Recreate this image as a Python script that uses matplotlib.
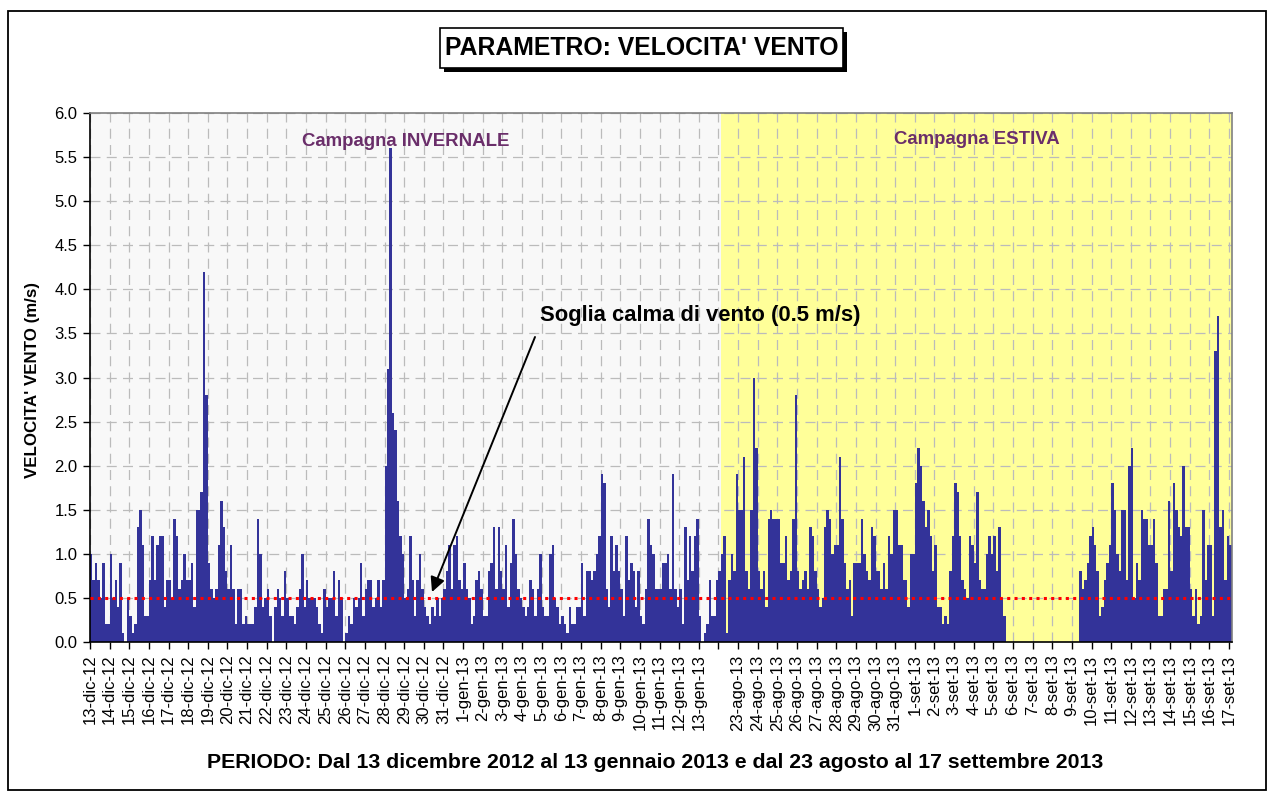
import numpy as np
import matplotlib
matplotlib.use('Agg')
import matplotlib.pyplot as plt
from matplotlib.patches import Rectangle
from matplotlib.ticker import FormatStrFormatter

# ---------------- data (3-hourly wind speed, m/s) ----------------
hours_per_sample = 3

winter_speed = [
    1.0, 0.7, 0.9, 0.7, 0.5, 0.9, 0.2, 0.2,   # 13-dic
    1.0, 0.5, 0.7, 0.4, 0.9, 0.1, 0.0, 0.5,   # 14-dic
    0.3, 0.1, 0.2, 1.3, 1.5, 1.1, 0.3, 0.3,   # 15-dic
    0.7, 1.2, 0.7, 1.1, 1.2, 1.2, 0.4, 0.7,   # 16-dic
    0.7, 0.5, 1.4, 1.2, 0.6, 0.7, 1.0, 0.7,   # 17-dic
    0.7, 0.9, 0.4, 1.5, 1.5, 1.7, 4.2, 2.8,   # 18-dic
    0.9, 0.6, 0.5, 0.6, 1.1, 1.6, 1.3, 0.8,   # 19-dic
    0.6, 1.1, 0.6, 0.2, 0.6, 0.6, 0.2, 0.3,   # 20-dic
    0.2, 0.2, 0.2, 0.4, 1.4, 1.0, 0.4, 0.5,   # 21-dic
    0.6, 0.3, 0.0, 0.4, 0.6, 0.5, 0.3, 0.8,   # 22-dic
    0.5, 0.3, 0.3, 0.2, 0.4, 0.6, 1.0, 0.4,   # 23-dic
    0.7, 0.5, 0.5, 0.5, 0.4, 0.2, 0.1, 0.6,   # 24-dic
    0.4, 0.5, 0.5, 0.8, 0.3, 0.7, 0.5, 0.0,   # 25-dic
    0.1, 0.3, 0.2, 0.5, 0.4, 0.5, 0.9, 0.3,   # 26-dic
    0.6, 0.7, 0.7, 0.4, 0.5, 0.7, 0.4, 0.7,   # 27-dic
    2.0, 3.1, 5.6, 2.6, 2.4, 1.6, 1.2, 1.0,   # 28-dic
    0.5, 0.6, 1.2, 0.7, 0.3, 0.7, 1.0, 0.6,   # 29-dic
    0.4, 0.3, 0.2, 0.4, 0.3, 0.5, 0.3, 0.5,   # 30-dic
    0.6, 0.8, 1.1, 0.6, 1.1, 1.2, 0.7, 0.6,   # 31-dic
    0.9, 0.6, 0.5, 0.2, 0.3, 0.7, 0.8, 0.6,   # 1-gen
    0.3, 0.3, 0.8, 0.9, 1.3, 0.6, 1.3, 0.8,   # 2-gen
    0.6, 1.1, 0.4, 0.9, 1.4, 1.0, 0.6, 0.5,   # 3-gen
    0.4, 0.3, 0.4, 0.7, 0.6, 0.3, 0.6, 1.0,   # 4-gen
    0.4, 0.3, 0.3, 1.0, 1.1, 0.5, 0.4, 0.2,   # 5-gen
    0.3, 0.2, 0.1, 0.4, 0.2, 0.2, 0.4, 0.4,   # 6-gen
    0.9, 0.3, 0.8, 0.8, 0.7, 0.8, 1.0, 1.2,   # 7-gen
    1.9, 1.8, 0.6, 0.4, 1.2, 0.8, 1.1, 0.8,   # 8-gen
    0.6, 0.3, 1.2, 0.7, 0.9, 0.8, 0.4, 0.8,   # 9-gen
    0.3, 0.2, 0.6, 1.4, 1.1, 1.0, 0.6, 0.6,   # 10-gen
    0.6, 0.9, 0.9, 1.0, 0.6, 1.9, 0.6, 0.4,   # 11-gen
    0.6, 0.2, 1.3, 0.7, 1.2, 0.8, 1.2, 1.4,   # 12-gen
    0.3, 0.0, 0.1, 0.2, 0.7, 0.3, 0.3, 0.7,   # 13-gen
]

summer_speed = [
    0.8, 1.0, 1.2, 0.1, 0.7, 1.0, 0.8, 1.9,   # (22-ago)
    1.5, 1.5, 2.1, 0.8, 0.6, 1.5, 3.0, 2.2,   # 23-ago
    0.8, 0.6, 0.8, 0.4, 1.4, 1.5, 1.4, 1.4,   # 24-ago
    1.4, 0.9, 0.9, 1.2, 0.7, 0.8, 1.4, 2.8,   # 25-ago
    0.8, 0.6, 0.7, 0.8, 0.6, 1.3, 1.2, 0.8,   # 26-ago
    0.6, 0.4, 0.5, 1.3, 1.5, 1.4, 1.0, 1.1,   # 27-ago
    1.1, 2.1, 1.4, 0.9, 0.6, 0.7, 0.3, 0.9,   # 28-ago
    0.9, 0.9, 1.4, 1.0, 0.8, 0.7, 1.3, 1.2,   # 29-ago
    0.8, 0.8, 0.6, 0.9, 0.6, 1.2, 1.0, 1.5,   # 30-ago
    1.5, 1.1, 1.1, 0.7, 0.7, 0.4, 1.0, 1.0,   # 31-ago
    1.8, 2.2, 2.0, 1.6, 1.3, 1.5, 1.2, 0.8,   # 1-set
    1.1, 0.4, 0.4, 0.2, 0.3, 0.2, 0.8, 1.2,   # 2-set
    1.8, 1.7, 1.2, 0.7, 0.6, 0.5, 1.2, 1.1,   # 3-set
    0.9, 1.7, 0.7, 0.6, 0.6, 1.0, 1.2, 1.0,   # 4-set
    1.2, 0.8, 1.3, 0.5, 0.3, 0.0, 0.0, 0.0,   # 5-set
    0.0, 0.0, 0.0, 0.0, 0.0, 0.0, 0.0, 0.0,   # 6-set
    0.0, 0.0, 0.0, 0.0, 0.0, 0.0, 0.0, 0.0,   # 7-set
    0.0, 0.0, 0.0, 0.0, 0.0, 0.0, 0.0, 0.0,   # 8-set
    0.0, 0.0, 0.0, 0.8, 0.6, 0.7, 0.9, 1.2,   # 9-set
    1.3, 1.1, 0.8, 0.3, 0.4, 0.7, 0.9, 1.1,   # 10-set
    1.8, 1.5, 1.0, 0.8, 1.5, 1.5, 0.7, 2.0,   # 11-set
    2.2, 0.5, 0.9, 0.7, 1.5, 1.4, 1.4, 1.1,   # 12-set
    1.1, 1.4, 0.9, 0.3, 0.3, 0.6, 0.6, 1.6,   # 13-set
    0.8, 1.8, 1.5, 1.3, 1.2, 2.0, 1.3, 1.3,   # 14-set
    0.6, 0.3, 0.6, 0.2, 0.3, 1.5, 0.7, 1.1,   # 15-set
    1.1, 0.3, 3.3, 3.7, 1.3, 1.5, 0.7, 1.2,   # 16-set
    1.1, 0.6,                                 # 17-set
]

day_labels = [
    '13-dic-12', '14-dic-12', '15-dic-12', '16-dic-12', '17-dic-12', '18-dic-12',
    '19-dic-12', '20-dic-12', '21-dic-12', '22-dic-12', '23-dic-12', '24-dic-12',
    '25-dic-12', '26-dic-12', '27-dic-12', '28-dic-12', '29-dic-12', '30-dic-12',
    '31-dic-12', '1-gen-13', '2-gen-13', '3-gen-13', '4-gen-13', '5-gen-13',
    '6-gen-13', '7-gen-13', '8-gen-13', '9-gen-13', '10-gen-13', '11-gen-13',
    '12-gen-13', '13-gen-13', '',
    '23-ago-13', '24-ago-13', '25-ago-13', '26-ago-13', '27-ago-13', '28-ago-13',
    '29-ago-13', '30-ago-13', '31-ago-13', '1-set-13', '2-set-13', '3-set-13',
    '4-set-13', '5-set-13', '6-set-13', '7-set-13', '8-set-13', '9-set-13',
    '10-set-13', '11-set-13', '12-set-13', '13-set-13', '14-set-13', '15-set-13',
    '16-set-13', '17-set-13',
]

threshold = 0.5
yticks = [0.0, 0.5, 1.0, 1.5, 2.0, 2.5, 3.0, 3.5, 4.0, 4.5, 5.0, 5.5, 6.0]

# ---------------- figure ----------------
plt.rcParams['font.family'] = ['Liberation Sans', 'DejaVu Sans']

W, H = 1270, 793
fig = plt.figure(figsize=(W / 100, H / 100), dpi=100)


def fx(px):
    return px / W


def fy(py):
    return 1 - py / H


ax = fig.add_axes([fx(90), fy(642), fx(1232) - fx(90), fy(113) - fy(642)])

speed = np.array(winter_speed + summer_speed, dtype=float)
edges = np.arange(len(speed) + 1) * hours_per_sample / 24.0
x_end = 58.15
summer_start = 32.13

ax.set_facecolor('#F8F8F8')
ax.axvspan(summer_start, x_end, color='#FFFF99', zorder=0, lw=0)

ax.stairs(speed, edges, fill=True, color='#333399', zorder=2, lw=0)

ax.axhline(threshold, color='#FF0000', lw=2.2, linestyle=(0, (1.0, 1.4)), zorder=4)

ax.set_xlim(0, x_end)
ax.set_ylim(0, 6)
ax.set_axisbelow(True)
ax.grid(True, color='#BBBBBB', lw=0.9, linestyle=(0, (8, 5)))

ax.set_xticks(np.arange(len(day_labels)))
ax.set_xticklabels(day_labels, rotation=90, fontsize=12)
ax.set_yticks(yticks)
ax.yaxis.set_major_formatter(FormatStrFormatter('%.1f'))
ax.tick_params(axis='y', labelsize=12, length=5, width=1, pad=4)
ax.tick_params(axis='x', length=5, width=1, pad=4)

for s in ('left', 'bottom'):
    ax.spines[s].set_color('black')
    ax.spines[s].set_linewidth(1.2)
for s in ('top', 'right'):
    ax.spines[s].set_color('#808080')
    ax.spines[s].set_linewidth(1.2)

# campaign labels
ax.text(fx(406), fy(142), 'Campagna INVERNALE', transform=fig.transFigure,
        ha='center', va='center', fontsize=13.4, fontweight='bold', color='#6A2E6A')
ax.text(fx(977), fy(140), 'Campagna ESTIVA', transform=fig.transFigure,
        ha='center', va='center', fontsize=13.4, fontweight='bold', color='#6A2E6A')

# threshold annotation
fig.text(fx(540), fy(316), 'Soglia calma di vento (0.5 m/s)', ha='left', va='center',
         fontsize=15.8, fontweight='bold', color='black')
tip = ax.transData.inverted().transform(fig.transFigure.transform((fx(432), fy(592))))
tail = ax.transData.inverted().transform(fig.transFigure.transform((fx(535), fy(337))))
ax.annotate('', xy=tip, xytext=tail,
            arrowprops=dict(arrowstyle='-|>', color='black', lw=1.4,
                            mutation_scale=22, shrinkA=0, shrinkB=0), zorder=5)

# axis titles
fig.text(fx(33), fy(380), "VELOCITA' VENTO (m/s)", rotation=90, ha='center', va='center',
         fontsize=12.2, fontweight='bold')
fig.text(fx(655), fy(762),
         'PERIODO: Dal 13 dicembre 2012 al 13 gennaio 2013 e dal 23 agosto al 17 settembre 2013',
         ha='center', va='center', fontsize=15.3, fontweight='bold')

# title box with shadow
fig.add_artist(Rectangle((fx(444), fy(72)), fx(843) - fx(440), fy(28) - fy(68),
                         transform=fig.transFigure, facecolor='black', edgecolor='black', lw=0))
fig.add_artist(Rectangle((fx(440), fy(68)), fx(843) - fx(440), fy(28) - fy(68),
                         transform=fig.transFigure, facecolor='white', edgecolor='black', lw=1.2))
fig.text(fx(642), fy(48), "PARAMETRO: VELOCITA' VENTO", ha='center', va='center',
         fontsize=17.8, fontweight='bold')

# outer frame
fig.add_artist(Rectangle((fx(7.5), fy(790)), fx(1266) - fx(7.5), fy(11) - fy(790),
                         transform=fig.transFigure, fill=False, edgecolor='black', lw=1.3))

fig.savefig('out.png', dpi=100)
